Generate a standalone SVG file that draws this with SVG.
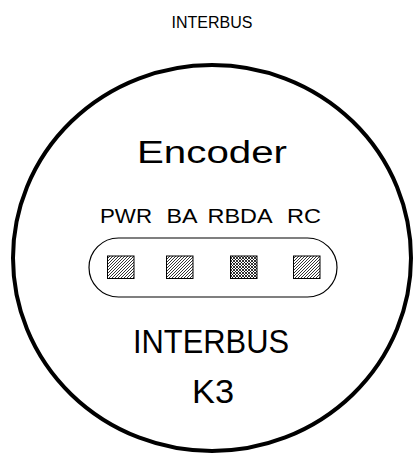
<svg xmlns="http://www.w3.org/2000/svg" width="414" height="454" viewBox="0 0 414 454">
<defs>
<style>
text{font-family:"Liberation Sans",Arial,sans-serif;fill:#000;text-anchor:middle}
.led{stroke:#000;stroke-width:1}
</style>
<pattern id="hatch" patternUnits="userSpaceOnUse" width="3" height="3">
<rect width="3" height="3" fill="#fff"/>
<path d="M-1,1 L1,-1 M0,3 L3,0 M2,4 L4,2" stroke="#000" stroke-width="0.8"/>
</pattern>
<pattern id="cross" patternUnits="userSpaceOnUse" width="3" height="3">
<rect width="3" height="3" fill="#fff"/>
<path d="M-1,1 L1,-1 M0,3 L3,0 M2,4 L4,2 M-1,2 L1,4 M0,0 L3,3 M2,-1 L4,1" stroke="#000" stroke-width="0.8"/>
</pattern>
</defs>
<g id="title"><text x="212" y="28" font-size="16">INTERBUS</text></g>
<g id="housing">
<ellipse cx="212" cy="258" rx="199" ry="193" fill="none" stroke="#000" stroke-width="4"/>
</g>
<g id="encoder-label"><text x="212" y="163" font-size="31" textLength="150" lengthAdjust="spacingAndGlyphs">Encoder</text></g>
<g id="led-labels">
<text x="126" y="223" font-size="21" textLength="52" lengthAdjust="spacingAndGlyphs">PWR</text>
<text x="182" y="223" font-size="21" textLength="31" lengthAdjust="spacingAndGlyphs">BA</text>
<text x="240" y="223" font-size="21" textLength="65" lengthAdjust="spacingAndGlyphs">RBDA</text>
<text x="304" y="223" font-size="21" textLength="34" lengthAdjust="spacingAndGlyphs">RC</text>
</g>
<g id="led-panel">
<rect x="89" y="238" width="248" height="59" rx="29.5" fill="none" stroke="#000" stroke-width="1.2"/>
<rect class="led" x="107.5" y="256" width="26.5" height="22.5" fill="url(#hatch)"/>
<rect class="led" x="166.5" y="256" width="26.5" height="22.5" fill="url(#hatch)"/>
<rect class="led" x="230.5" y="256" width="26.5" height="22.5" fill="url(#cross)"/>
<rect class="led" x="293.5" y="256" width="26.5" height="22.5" fill="url(#hatch)"/>
</g>
<g id="bus-label">
<text x="211" y="353" font-size="34" textLength="156" lengthAdjust="spacingAndGlyphs">INTERBUS</text>
<text x="213" y="403" font-size="34" textLength="42" lengthAdjust="spacingAndGlyphs">K3</text>
</g>
</svg>
